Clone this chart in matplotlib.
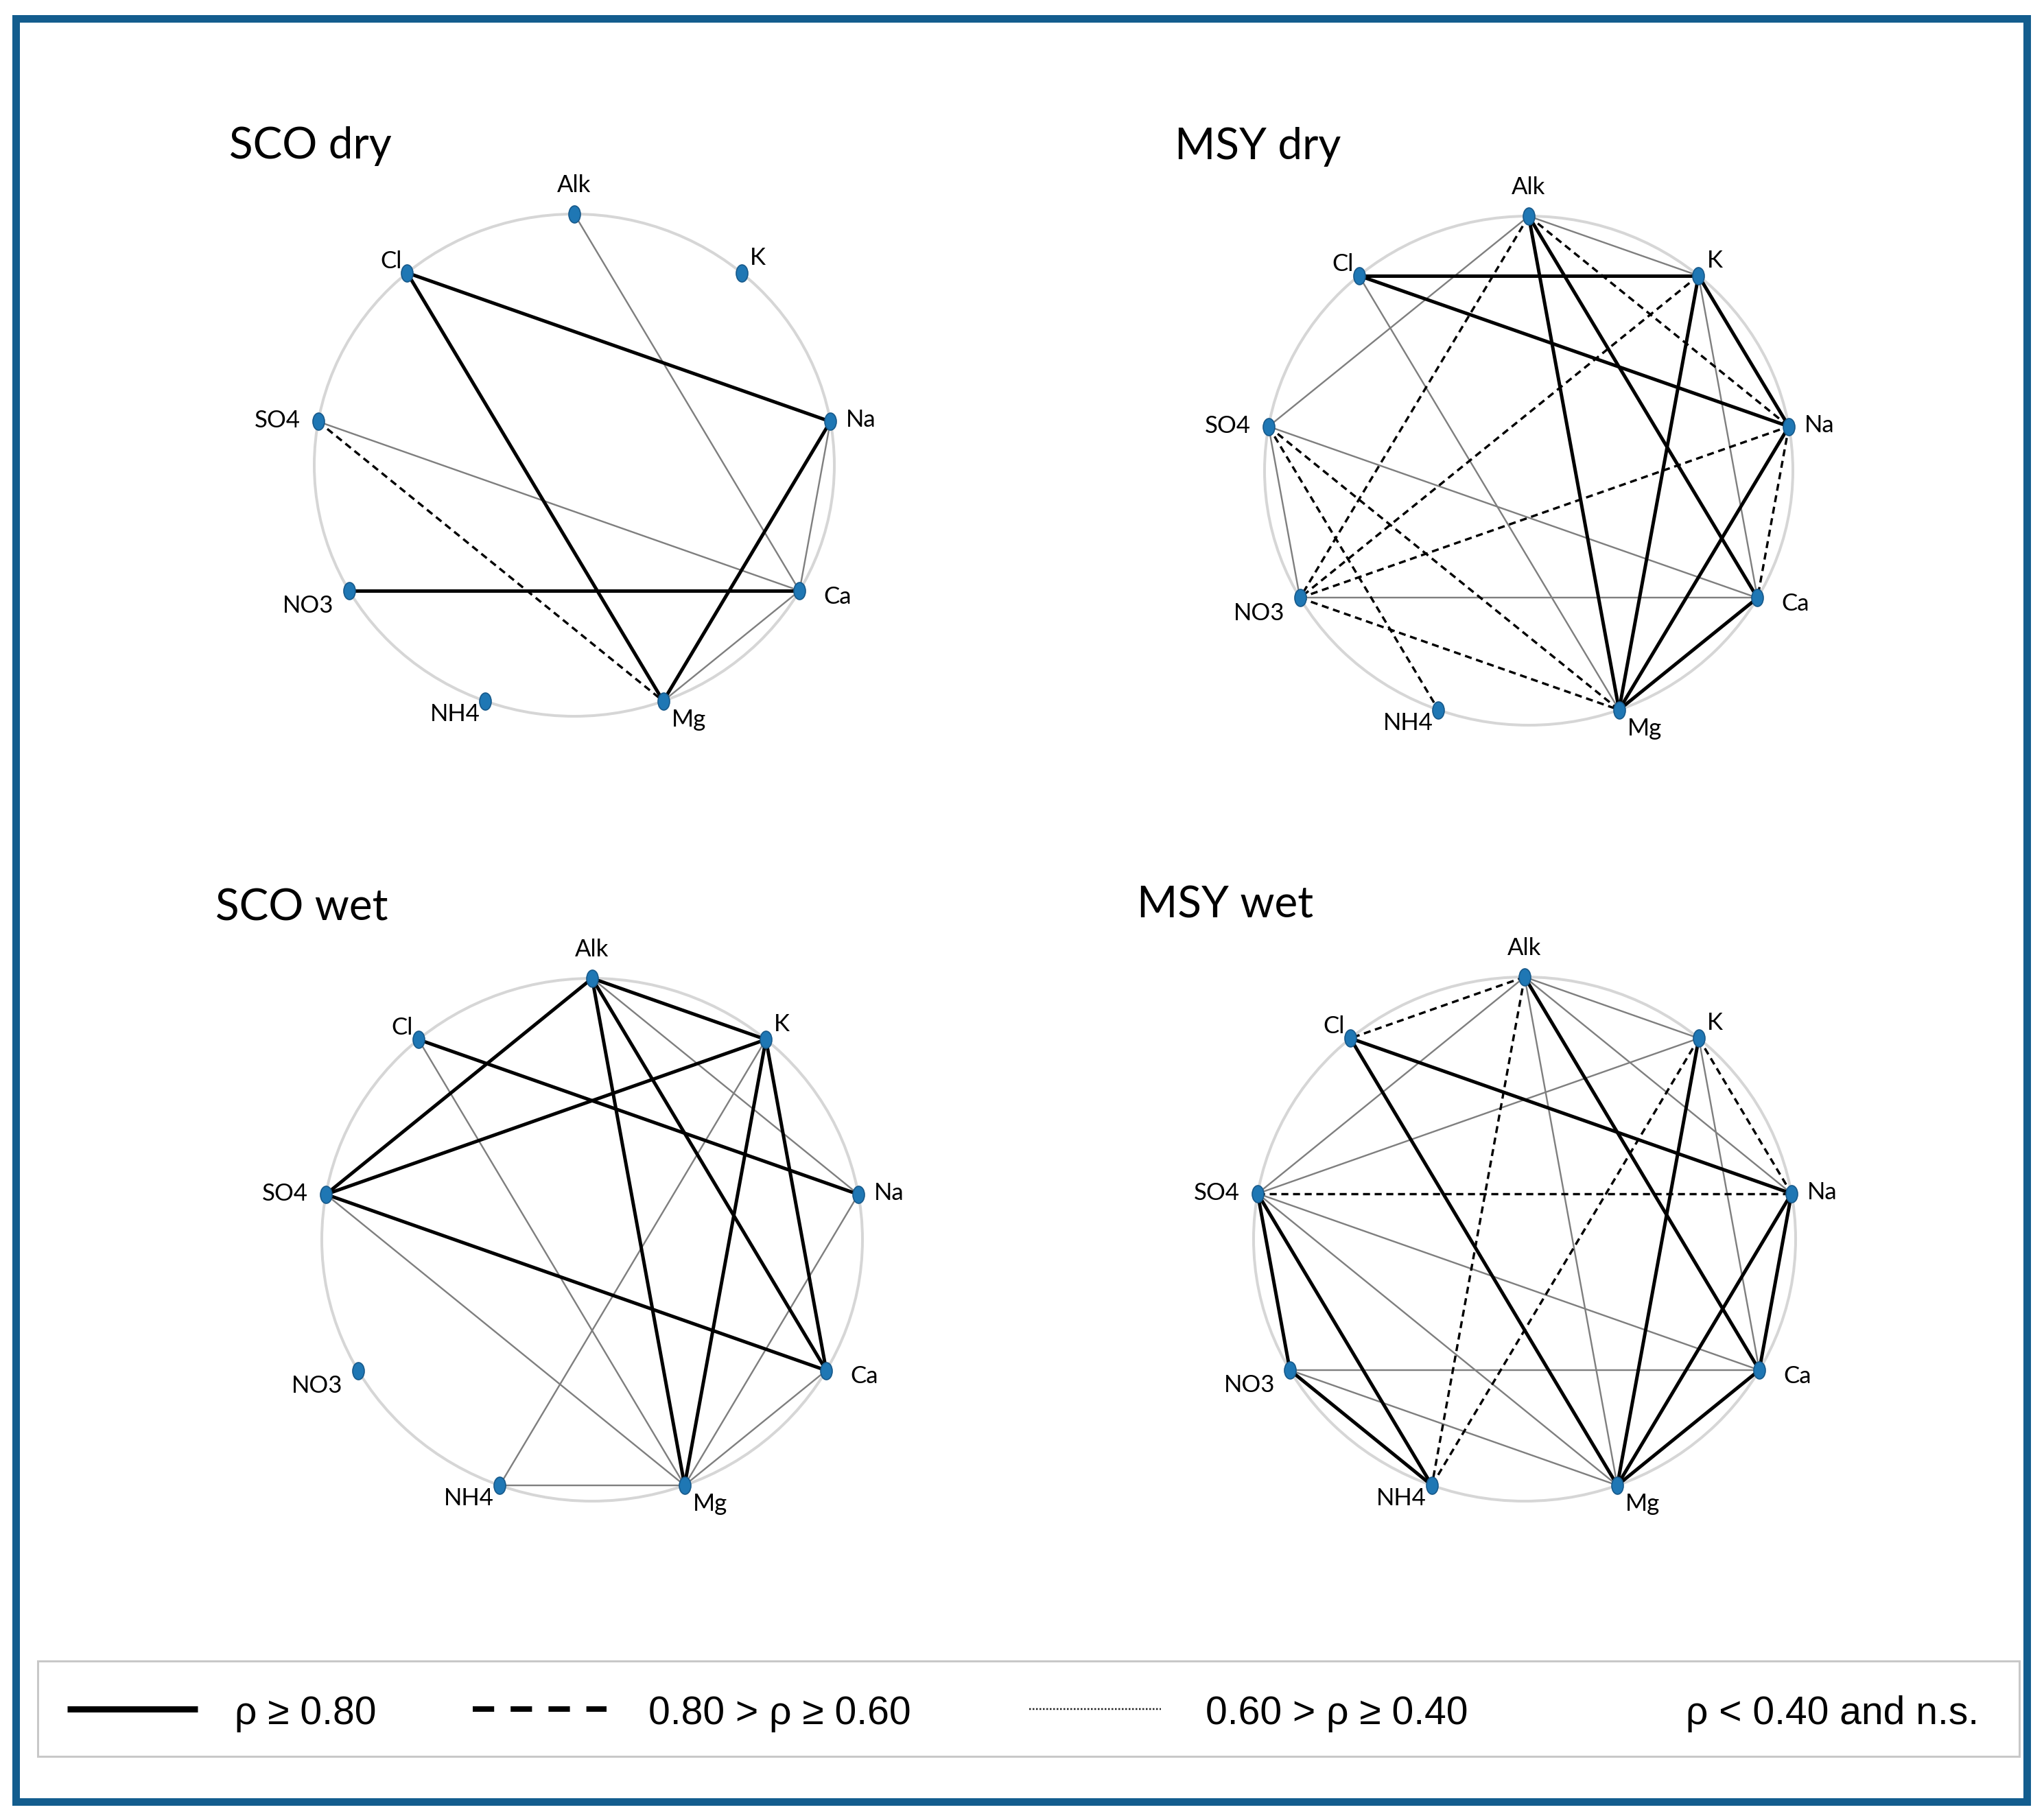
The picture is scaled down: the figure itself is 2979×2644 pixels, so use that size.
import numpy as np
import matplotlib
matplotlib.use("Agg")
import matplotlib.pyplot as plt
from matplotlib.path import Path
from matplotlib.transforms import Affine2D
from matplotlib.patches import Circle, Rectangle
from matplotlib import font_manager

W, H, DPI = 2979, 2644, 100
PT = 72 / DPI  # points per pixel

# ---- data -------------------------------------------------------------
ions = ["Alk", "K", "Na", "Ca", "Mg", "NH4", "NO3", "SO4", "Cl"]
panels = ["SCO dry", "MSY dry", "SCO wet", "MSY wet"]

# pairs by Spearman class: strong (rho >= 0.80), moderate (0.80 > rho >= 0.60),
# weak (0.60 > rho >= 0.40)
sco_dry_strong = [("Cl", "Na"), ("Cl", "Mg"), ("Na", "Mg"), ("NO3", "Ca")]
sco_dry_moderate = [("SO4", "Mg")]
sco_dry_weak = [("Alk", "Ca"), ("SO4", "Ca"), ("Na", "Ca"), ("Ca", "Mg")]

msy_dry_strong = [("Alk", "Mg"), ("Alk", "Ca"), ("Cl", "K"), ("Cl", "Na"),
                  ("K", "Na"), ("K", "Mg"), ("Na", "Mg"), ("Ca", "Mg")]
msy_dry_moderate = [("Alk", "NO3"), ("Alk", "Na"), ("K", "NO3"), ("SO4", "Mg"),
                    ("SO4", "NH4"), ("NO3", "Na"), ("NO3", "Mg"), ("Na", "Ca")]
msy_dry_weak = [("Alk", "K"), ("Alk", "SO4"), ("Cl", "Mg"), ("K", "Ca"),
                ("SO4", "NO3"), ("SO4", "Ca"), ("NO3", "Ca")]

sco_wet_strong = [("Alk", "K"), ("Alk", "SO4"), ("Alk", "Mg"), ("Alk", "Ca"),
                  ("K", "SO4"), ("K", "Mg"), ("K", "Ca"), ("Cl", "Na"),
                  ("SO4", "Ca")]
sco_wet_moderate = []
sco_wet_weak = [("Alk", "Na"), ("K", "NH4"), ("Cl", "Mg"), ("SO4", "Mg"),
                ("Na", "Mg"), ("Ca", "Mg"), ("NH4", "Mg")]

msy_wet_strong = [("Alk", "Ca"), ("Cl", "Na"), ("Cl", "Mg"), ("K", "Mg"),
                  ("SO4", "NO3"), ("SO4", "NH4"), ("NO3", "NH4"),
                  ("Na", "Mg"), ("Na", "Ca"), ("Ca", "Mg")]
msy_wet_moderate = [("Alk", "Cl"), ("Alk", "NH4"), ("K", "NH4"), ("K", "Na"),
                    ("SO4", "Na")]
msy_wet_weak = [("Alk", "SO4"), ("Alk", "Mg"), ("Alk", "Na"), ("Alk", "K"),
                ("K", "SO4"), ("K", "Ca"), ("SO4", "Ca"), ("SO4", "Mg"),
                ("NO3", "Ca"), ("NO3", "Mg")]

edges = {
    "SCO dry": (sco_dry_strong, sco_dry_moderate, sco_dry_weak),
    "MSY dry": (msy_dry_strong, msy_dry_moderate, msy_dry_weak),
    "SCO wet": (sco_wet_strong, sco_wet_moderate, sco_wet_weak),
    "MSY wet": (msy_wet_strong, msy_wet_moderate, msy_wet_weak),
}

legend_labels = ["ρ ≥ 0.80", "0.80 > ρ ≥ 0.60", "0.60 > ρ ≥ 0.40", "ρ < 0.40 and n.s."]

# ---- layout (pixels) --------------------------------------------------
# centre x, centre y, radius x, radius y, title x, title baseline
layout = {
    "SCO dry": (837, 678, 379, 366, 334, 231),
    "MSY dry": (2228, 686, 385, 371, 1712, 232),
    "SCO wet": (863, 1807, 394, 381, 314, 1342),
    "MSY wet": (2222, 1806, 395, 382, 1657, 1338),
}
# label offset from node (px right, px down) and alignment
label_pos = {
    "Alk": (0, -42, "center"), "K": (12, -22, "left"), "Na": (23, -2, "left"),
    "Ca": (35, 9, "left"), "Mg": (12, 27, "left"), "NH4": (-8, 19, "right"),
    "NO3": (-22, 22, "right"), "SO4": (-26, -1, "right"), "Cl": (-8, -17, "right"),
}

styles = [
    dict(color="black", lw=5 * PT, solid_capstyle="round", zorder=3),
    dict(color="black", lw=3.4 * PT, linestyle=(0, (3.0, 2.0)), zorder=2),
    dict(color="#7f7f7f", lw=2.4 * PT, zorder=1),
]

names = {f.name for f in font_manager.fontManager.ttflist}
narrow = "Liberation Sans Narrow" in names
leg_family = ["Liberation Sans Narrow" if narrow else "Liberation Sans", "DejaVu Sans"]
leg_size = 46 if narrow else 41

node_marker = Path.unit_circle().transformed(Affine2D().scale(0.68, 1.0))

fig = plt.figure(figsize=(W / DPI, H / DPI), dpi=DPI)

# background axes in pixel coordinates for frame and legend
bg = fig.add_axes([0, 0, 1, 1])
bg.set_xlim(0, W)
bg.set_ylim(H, 0)
bg.axis("off")
bg.add_patch(Rectangle((22.5, 26.5), 2931, 2599, fill=False,
                       ec="#135d8e", lw=11 * PT, joinstyle="miter"))
bg.add_patch(Rectangle((55, 2421), 2888, 139, fill=False, ec="#c8c8c8", lw=3 * PT))

ly = 2491
bg.plot([98, 288], [ly, ly], color="black", lw=9 * PT, solid_capstyle="butt")
bg.plot([689, 884], [ly, ly], color="black", lw=8 * PT,
        linestyle=(0, (3.9, 3.0)), dash_capstyle="butt")
bg.plot([1500, 1692], [ly, ly], color="#222222", lw=2.5 * PT,
        linestyle=(0, (1.0, 1.0)), dash_capstyle="butt")
for x, lab in zip([342, 945, 1757, 2457], legend_labels):
    bg.text(x, 2513, lab, family=leg_family, fontsize=leg_size, ha="left", va="baseline")

k = 1.35
ang = np.deg2rad(90 - 40 * np.arange(len(ions)))
pos = {n: (np.cos(a), np.sin(a)) for n, a in zip(ions, ang)}

for name in panels:
    cx, cy, rx, ry, tx, ty = layout[name]
    ax = fig.add_axes([(cx - k * rx) / W, 1 - (cy + k * ry) / H,
                       2 * k * rx / W, 2 * k * ry / H])
    ax.set_xlim(-k, k)
    ax.set_ylim(-k, k)
    ax.axis("off")
    ax.patch.set_alpha(0)
    ax.add_patch(Circle((0, 0), 1, fill=False, ec="#d6d6d6", lw=4 * PT, zorder=0))
    for pairs, st in zip(edges[name], styles):
        for a, b in pairs:
            ax.plot([pos[a][0], pos[b][0]], [pos[a][1], pos[b][1]], **st)
    xs = [pos[n][0] for n in ions]
    ys = [pos[n][1] for n in ions]
    ax.plot(xs, ys, linestyle="none", marker=node_marker, markersize=25 * PT,
            mfc="#1f77b4", mec="#17598a", mew=1.2, zorder=4)
    for n in ions:
        dx, dy, ha = label_pos[n]
        ax.annotate(n, pos[n], xytext=(dx * PT, -dy * PT), textcoords="offset points",
                    ha=ha, va="center", family="Lato", fontsize=25, zorder=5)
    fig.text(tx / W, 1 - ty / H, name, family="Lato", fontsize=46,
             ha="left", va="baseline")

fig.savefig("out.png", dpi=DPI, facecolor="white")
